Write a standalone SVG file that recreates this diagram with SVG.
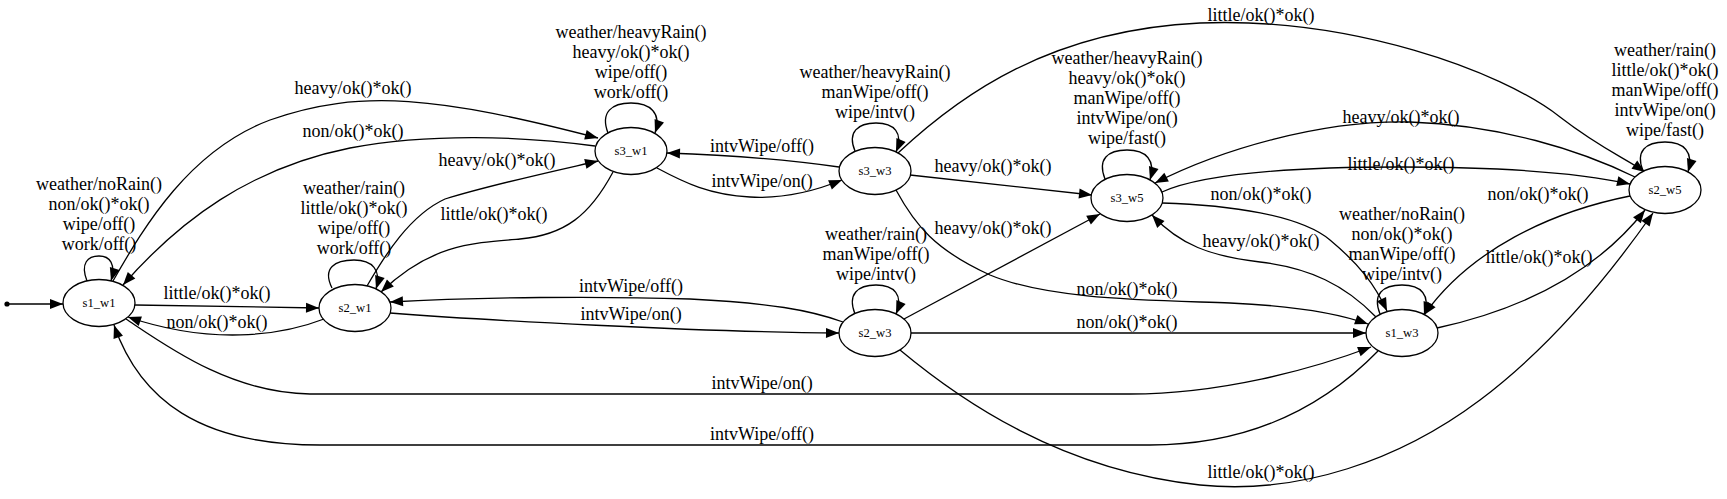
<svg xmlns="http://www.w3.org/2000/svg" width="1727" height="499" viewBox="0 0 1727 499">
<style>
.n ellipse{fill:#fff;stroke:#000;stroke-width:1.3}
.n text{font-family:"Liberation Serif","Times New Roman",serif;font-size:12.6px;text-anchor:middle;fill:#000}
.e{fill:none;stroke:#000;stroke-width:1.3;marker-end:url(#a)}
.l{font-family:"Liberation Serif","Times New Roman",serif;font-size:18px;text-anchor:middle;fill:#000}
</style>
<defs>
<marker id="a" markerUnits="userSpaceOnUse" markerWidth="14" markerHeight="12" refX="13" refY="5" orient="auto" overflow="visible"><path d="M0,0 L13,5 L0,10 z" fill="#000"/></marker>
</defs>
<rect width="1727" height="499" fill="#fff"/>
<g id="connectors">
<circle cx="7" cy="304" r="2.6" fill="#000"/>
<path class="e" d="M7,304 L63,304"/>
<!-- s1_w1 loop -->
<path class="e" d="M87,281 C80,263 88,256 99,256 C110,256 116,264 111,281"/>
<text class="l"><tspan x="99" y="190">weather/noRain()</tspan><tspan x="99" y="210">non/ok()*ok()</tspan><tspan x="99" y="230">wipe/off()</tspan><tspan x="99" y="250">work/off()</tspan></text>
<!-- s1_w1 -> s2_w1 -->
<path class="e" d="M135,305 L319,308"/>
<text class="l" x="217" y="299">little/ok()*ok()</text>
<!-- s2_w1 -> s1_w1 -->
<path class="e" d="M324,319 C280,336 210,345 128,317"/>
<text class="l" x="217" y="328">non/ok()*ok()</text>
<!-- s1_w1 -> s3_w1 -->
<path class="e" d="M113,281 C145,225 190,150 270,120 C360,88 440,97 598,138"/>
<text class="l" x="353" y="94">heavy/ok()*ok()</text>
<!-- s3_w1 -> s1_w1 -->
<path class="e" d="M595,146 C520,136 430,133 350,148 C250,168 180,220 123,285"/>
<text class="l" x="353" y="137">non/ok()*ok()</text>
<!-- s2_w1 loop -->
<path class="e" d="M332,288 C322,268 335,260 354,260 C372,260 382,270 376,289"/>
<text class="l"><tspan x="354" y="194">weather/rain()</tspan><tspan x="354" y="214">little/ok()*ok()</tspan><tspan x="354" y="234">wipe/off()</tspan><tspan x="354" y="254">work/off()</tspan></text>
<!-- s2_w1 -> s3_w1 -->
<path class="e" d="M367,286 C385,255 410,215 445,199 C490,185 550,172 598,161"/>
<text class="l" x="497" y="166">heavy/ok()*ok()</text>
<!-- s3_w1 -> s2_w1 -->
<path class="e" d="M613,172 C590,215 565,235 520,239 C470,243 430,245 381,292"/>
<text class="l" x="494" y="220">little/ok()*ok()</text>
<!-- s3_w1 loop -->
<path class="e" d="M608,133 C600,112 612,103 631,103 C650,103 662,113 655,133"/>
<text class="l"><tspan x="631" y="38">weather/heavyRain()</tspan><tspan x="631" y="58">heavy/ok()*ok()</tspan><tspan x="631" y="78">wipe/off()</tspan><tspan x="631" y="98">work/off()</tspan></text>
<!-- s3_w3 -> s3_w1 -->
<path class="e" d="M839,167 C790,160 730,155 667,153"/>
<text class="l" x="762" y="152">intvWipe/off()</text>
<!-- s3_w1 -> s3_w3 -->
<path class="e" d="M657,168 C685,183 710,195 750,197 C785,199 815,191 842,180"/>
<text class="l" x="762" y="187">intvWipe/on()</text>
<!-- s3_w3 loop -->
<path class="e" d="M855,151 C847,132 858,123 876,123 C894,123 904,133 896,152"/>
<text class="l"><tspan x="875" y="78">weather/heavyRain()</tspan><tspan x="875" y="98">manWipe/off()</tspan><tspan x="875" y="118">wipe/intv()</tspan></text>
<!-- s3_w3 -> s2_w5 -->
<path class="e" d="M898,153 C960,95 1050,30 1200,23 C1350,17 1500,70 1560,117 C1600,148 1625,158 1645,172"/>
<text class="l" x="1261" y="21">little/ok()*ok()</text>
<!-- s3_w3 -> s3_w5 -->
<path class="e" d="M910,175 L1092,195"/>
<text class="l" x="993" y="172">heavy/ok()*ok()</text>
<!-- s2_w3 -> s3_w5 -->
<path class="e" d="M904,319 L1100,214"/>
<text class="l" x="993" y="234">heavy/ok()*ok()</text>
<!-- s3_w3 -> s1_w3 -->
<path class="e" d="M896,190 C915,225 935,250 990,275 C1050,300 1150,300 1230,303 C1300,306 1340,314 1368,324"/>
<text class="l" x="1127" y="295">non/ok()*ok()</text>
<!-- s2_w3 -> s1_w3 -->
<path class="e" d="M911,333 L1366,333"/>
<text class="l" x="1127" y="328">non/ok()*ok()</text>
<!-- s2_w3 loop -->
<path class="e" d="M855,314 C847,294 858,285 876,285 C894,285 904,295 896,314"/>
<text class="l"><tspan x="876" y="240">weather/rain()</tspan><tspan x="876" y="260">manWipe/off()</tspan><tspan x="876" y="280">wipe/intv()</tspan></text>
<!-- s2_w1 -> s2_w3 -->
<path class="e" d="M390,313 C480,320 700,332 839,333"/>
<text class="l" x="631" y="320">intvWipe/on()</text>
<!-- s2_w3 -> s2_w1 -->
<path class="e" d="M843,322 C810,310 770,303 690,299 C600,296 480,297 390,302"/>
<text class="l" x="631" y="292">intvWipe/off()</text>
<!-- s1_w1 -> s1_w3 -->
<path class="e" d="M126,319 C165,345 230,393 310,394 L1130,394 C1220,394 1310,370 1371,347"/>
<text class="l" x="762" y="389">intvWipe/on()</text>
<!-- s1_w3 -> s1_w1 -->
<path class="e" d="M1378,351 C1340,390 1270,445 1150,445 L320,445 C200,445 140,400 114,325"/>
<text class="l" x="762" y="440">intvWipe/off()</text>
<!-- s2_w3 -> s2_w5 -->
<path class="e" d="M900,350 C960,400 1060,470 1200,485 C1300,495 1400,460 1480,400 C1560,340 1620,260 1653,213"/>
<text class="l" x="1261" y="478">little/ok()*ok()</text>
<!-- s1_w3 -> s2_w5 -->
<path class="e" d="M1437,328 C1510,312 1590,280 1645,210"/>
<text class="l" x="1539" y="263">little/ok()*ok()</text>
<!-- s2_w5 -> s1_w3 -->
<path class="e" d="M1630,196 C1550,212 1470,250 1424,315"/>
<text class="l" x="1538" y="200">non/ok()*ok()</text>
<!-- s1_w3 loop -->
<path class="e" d="M1380,314 C1372,294 1383,285 1402,285 C1421,285 1431,295 1424,315"/>
<text class="l"><tspan x="1402" y="220">weather/noRain()</tspan><tspan x="1402" y="240">non/ok()*ok()</tspan><tspan x="1402" y="260">manWipe/off()</tspan><tspan x="1402" y="280">wipe/intv()</tspan></text>
<!-- s3_w5 -> s1_w3 -->
<path class="e" d="M1162,203 C1230,205 1300,215 1330,240 C1360,265 1375,285 1387,311"/>
<text class="l" x="1261" y="200">non/ok()*ok()</text>
<!-- s1_w3 -> s3_w5 -->
<path class="e" d="M1376,317 C1345,285 1310,268 1260,262 C1210,256 1180,245 1152,215"/>
<text class="l" x="1261" y="247">heavy/ok()*ok()</text>
<!-- s3_w5 loop -->
<path class="e" d="M1105,179 C1097,159 1108,150 1127,150 C1146,150 1156,160 1150,180"/>
<text class="l"><tspan x="1127" y="64">weather/heavyRain()</tspan><tspan x="1127" y="84">heavy/ok()*ok()</tspan><tspan x="1127" y="104">manWipe/off()</tspan><tspan x="1127" y="124">intvWipe/on()</tspan><tspan x="1127" y="144">wipe/fast()</tspan></text>
<!-- s2_w5 -> s3_w5 -->
<path class="e" d="M1635,177 C1580,150 1500,125 1410,122 C1320,120 1220,150 1155,183"/>
<text class="l" x="1401" y="123">heavy/ok()*ok()</text>
<!-- s3_w5 -> s2_w5 -->
<path class="e" d="M1162,192 C1200,175 1280,167 1400,167 C1500,167 1580,173 1630,184"/>
<text class="l" x="1401" y="170">little/ok()*ok()</text>
<!-- s2_w5 loop -->
<path class="e" d="M1643,171 C1635,151 1646,142 1665,142 C1684,142 1694,152 1688,172"/>
<text class="l"><tspan x="1665" y="56">weather/rain()</tspan><tspan x="1665" y="76">little/ok()*ok()</tspan><tspan x="1665" y="96">manWipe/off()</tspan><tspan x="1665" y="116">intvWipe/on()</tspan><tspan x="1665" y="136">wipe/fast()</tspan></text>
</g>
<g id="s1_w1" class="n"><ellipse cx="99" cy="303" rx="36" ry="23.5"/><text x="99" y="307">s1_w1</text></g>
<g id="s2_w1" class="n"><ellipse cx="355" cy="308" rx="36" ry="23.5"/><text x="355" y="312">s2_w1</text></g>
<g id="s3_w1" class="n"><ellipse cx="631" cy="151" rx="36" ry="23.5"/><text x="631" y="155">s3_w1</text></g>
<g id="s3_w3" class="n"><ellipse cx="875" cy="171" rx="36" ry="23.5"/><text x="875" y="175">s3_w3</text></g>
<g id="s2_w3" class="n"><ellipse cx="875" cy="333" rx="36" ry="23.5"/><text x="875" y="337">s2_w3</text></g>
<g id="s3_w5" class="n"><ellipse cx="1127" cy="198" rx="36" ry="23.5"/><text x="1127" y="202">s3_w5</text></g>
<g id="s1_w3" class="n"><ellipse cx="1402" cy="333" rx="36" ry="23.5"/><text x="1402" y="337">s1_w3</text></g>
<g id="s2_w5" class="n"><ellipse cx="1665" cy="190" rx="36" ry="23.5"/><text x="1665" y="194">s2_w5</text></g>
</svg>
